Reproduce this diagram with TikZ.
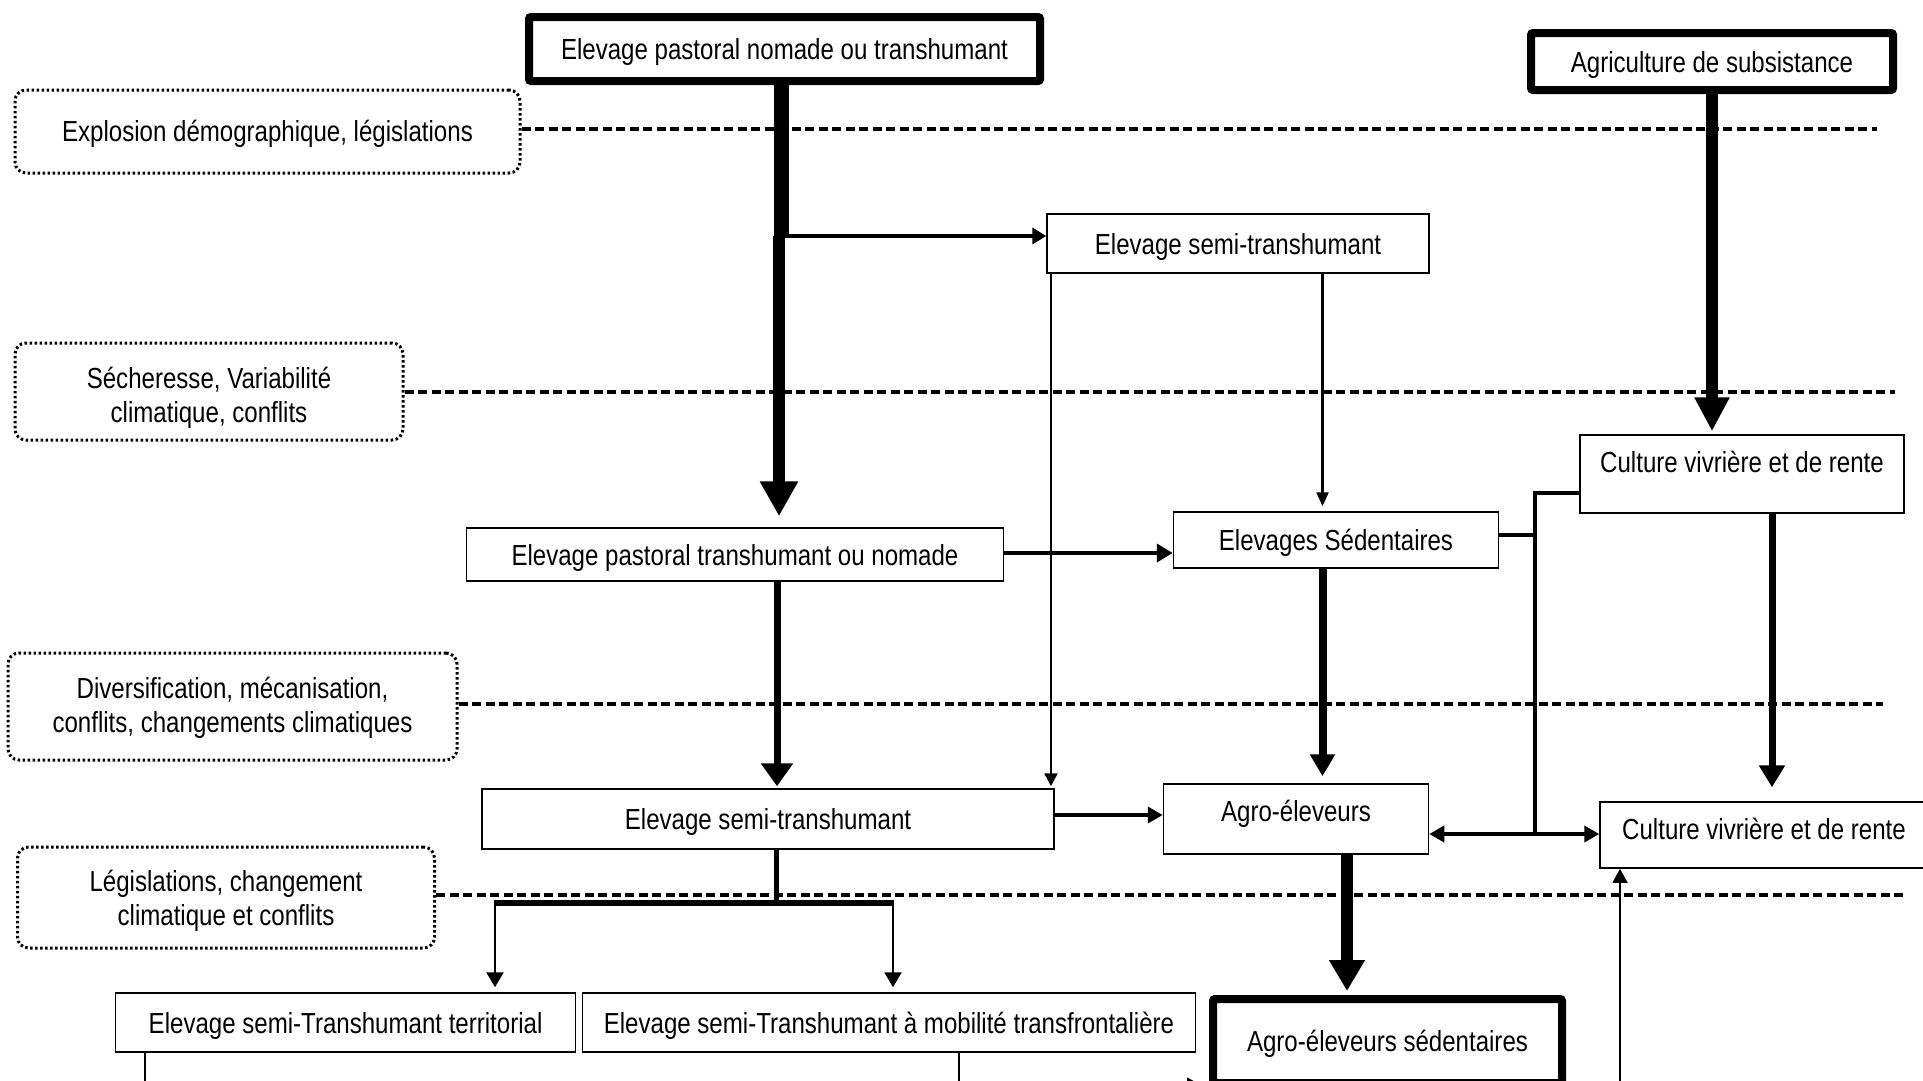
\documentclass[tikz,border=0pt]{standalone}
\usepackage{fontspec}
\setmainfont{Liberation Sans}[FakeStretch=0.83]
\usetikzlibrary{arrows.meta}
\begin{document}
\begin{tikzpicture}[x=1pt,y=-1pt,
  every node/.style={font=\fontsize{29}{34}\selectfont, inner sep=0pt, align=center},
  box/.style={draw, line width=1.5pt, text height=24pt, text depth=3pt},
  tbox/.style={draw, line width=8pt, rounded corners=2pt, text height=24pt, text depth=3pt},
  pbox/.style={draw, line width=3pt, dash pattern=on 2.5pt off 2.5pt, rounded corners=11pt},
  sep/.style={line width=4pt, dash pattern=on 9pt off 4.5pt}
]
\fill[white] (0,0) rectangle (1923,1080);
\useasboundingbox (0,0) rectangle (1923,1080);

% dotted boxes (drivers)
\node[pbox, minimum width=505pt, minimum height=83pt, text height=23pt, text depth=3pt] (P1) at (267.5,131.5) {Explosion démographique, législations};
\node[pbox, minimum width=388pt, minimum height=97pt, text height=62pt, text depth=0pt] (P2) at (209,391.5) {Sécheresse, Variabilité\\climatique, conflits};
\node[pbox, minimum width=449pt, minimum height=107pt, text height=55pt, text depth=4pt] (P3) at (232.5,706.5) {Diversification, mécanisation,\\conflits, changements climatiques};
\node[pbox, minimum width=417pt, minimum height=101pt, text height=58pt, text depth=2pt] (P4) at (226,897.5) {Législations, changement\\climatique et conflits};

% dashed separators
\coordinate (e1) at (1877,0);
\coordinate (e2) at (1895,0);
\coordinate (e3) at (1883,0);
\coordinate (e4) at (1905,0);
\draw[sep] ([yshift=2.5pt]P1.east) -- ([yshift=2.5pt]P1.east -| e1);
\draw[sep] (P2.east) -- (P2.east -| e2);
\draw[sep] ([yshift=2.5pt]P3.east) -- ([yshift=2.5pt]P3.east -| e3);
\draw[sep] ([yshift=2.5pt]P4.east) -- ([yshift=2.5pt]P4.east -| e4);

% boxes
\node[tbox, minimum width=511pt, minimum height=64pt] (A) at (784.5,49) {Elevage pastoral nomade ou transhumant};
\node[tbox, minimum width=362pt, minimum height=57pt] (B) at (1712,61.5) {Agriculture de subsistance};
\node[box, minimum width=382pt, minimum height=59pt] (C) at (1238,243.5) {Elevage semi-transhumant};
\node[box, minimum width=324pt, minimum height=78pt, text height=21pt, text depth=25pt] (D) at (1742,474) {Culture vivrière et de rente};
\node[box, minimum width=325pt, minimum height=56pt] (G) at (1336,540) {Elevages Sédentaires};
\node[box, minimum width=537pt, minimum height=53pt] (F) at (735,554.5) {Elevage pastoral transhumant ou nomade};
\node[box, minimum width=572pt, minimum height=60pt] (E) at (768,819) {Elevage semi-transhumant};
\node[box, minimum width=265pt, minimum height=70pt, text height=21pt, text depth=17pt] (H) at (1296,819) {Agro-éleveurs};
\node[box, minimum width=328pt, minimum height=66pt, text height=21pt, text depth=12pt] (D2) at (1764,835) {Culture vivrière et de rente};
\node[box, minimum width=460pt, minimum height=59pt] (I) at (345.6,1022.5) {Elevage semi-Transhumant territorial};
\node[box, minimum width=613pt, minimum height=59pt] (J) at (889,1022.5) {Elevage semi-Transhumant à mobilité transfrontalière};
\node[tbox, minimum width=349pt, minimum height=84pt] (K) at (1387.5,1041) {Agro-éleveurs sédentaires};

% A -> C and A -> F
\coordinate (j1) at (781,236);
\coordinate (j1b) at (779,236);
\draw[line width=15pt] (A.south -| j1) -- (j1);
\draw[line width=4.5pt, -{Triangle[length=14pt,width=16pt]}] (j1) -- (C.west |- j1);
\draw[line width=12pt, -{Triangle[length=35pt,width=36pt]}, shorten >=11pt] (j1b) -- (j1b |- F.north);

% C -> E (corner) and C -> G
\coordinate (xc) at (1051,0);
\coordinate (xg) at (1322.5,0);
\draw[line width=2.5pt, -{Triangle[length=13pt,width=13pt]}, shorten >=2pt] (C.south -| xc) -- (E.north -| xc);
\draw[line width=2.5pt, -{Triangle[length=14pt,width=12pt]}, shorten >=5pt] (C.south -| xg) -- (G.north -| xg);

% B -> D
\draw[line width=12pt, -{Triangle[length=34pt,width=33pt]}, shorten >=3pt] (B.south) -- (B.south |- D.north);

% F -> G, F -> E
\draw[line width=4pt, -{Triangle[length=16pt,width=18pt]}] ([yshift=1.5pt]F.east) -- ([yshift=1.5pt]F.east -| G.west);
\coordinate (xf) at (777,0);
\draw[line width=7pt, -{Triangle[length=23pt,width=31pt]}, shorten >=2pt] (F.south -| xf) -- (E.north -| xf);

% E -> H
\draw[line width=4pt, -{Triangle[length=15pt,width=16pt]}] ([yshift=4pt]E.east) -- ([yshift=4pt]E.east -| H.west);

% G -> H
\draw[line width=8pt, -{Triangle[length=22pt,width=24pt]}, shorten >=7pt] (G.south -| xg) -- (H.north -| xg);

% D -> D2
\coordinate (xd) at (1772,0);
\draw[line width=7pt, -{Triangle[length=22pt,width=25pt]}, shorten >=14pt] (D.south -| xd) -- (D2.north -| xd);

% bus between G, D, H, D2
\coordinate (bus) at (1535,0);
\draw[line width=3.5pt] ([yshift=5pt]G.east) -- ([yshift=5pt]G.east -| bus);
\draw[line width=4pt] ([yshift=-19pt]D.west) -| ([yshift=-15pt]H.east -| bus);
\draw[line width=4pt, {Triangle[length=15pt,width=16pt]}-{Triangle[length=15pt,width=16pt]}] ([yshift=-15pt]H.east) -- ([yshift=-15pt]H.east -| D2.west);

% H -> K
\coordinate (xh) at (1347,0);
\draw[line width=12pt, -{Triangle[length=31pt,width=34pt]}, shorten >=4pt] (H.south -| xh) -- (K.north -| xh);

% E split -> I, J
\coordinate (xe) at (776.7,0);
\coordinate (s1) at (495,903);
\coordinate (s2) at (893,903);
\draw[line width=5.5pt] (E.south -| xe) -- (xe |- s1);
\draw[line width=5.5pt] ([xshift=-1.25pt]s1) -- ([xshift=1.25pt]s2);
\draw[line width=2.5pt, -{Triangle[length=15pt,width=17pt]}, shorten >=5pt] (s1) -- (s1 |- I.north);
\draw[line width=2.5pt, -{Triangle[length=15pt,width=17pt]}, shorten >=5pt] (s2) -- (s2 |- J.north);

% lower connectors (leaving the frame)
\coordinate (xi) at (145,0);
\coordinate (xj) at (959,0);
\coordinate (xk) at (1620,0);
\coordinate (ylow) at (0,1100);
\coordinate (yk) at (0,1085);
\draw[line width=1.2pt, -{Triangle[length=14pt,width=15pt]}] (I.south -| xi) -- (xi |- ylow) -| (D2.south -| xk);
\draw[line width=1.2pt, -{Triangle[length=14pt,width=15pt]}, shorten >=8pt] (J.south -| xj) |- (K.west |- yk);
\end{tikzpicture}
\end{document}
